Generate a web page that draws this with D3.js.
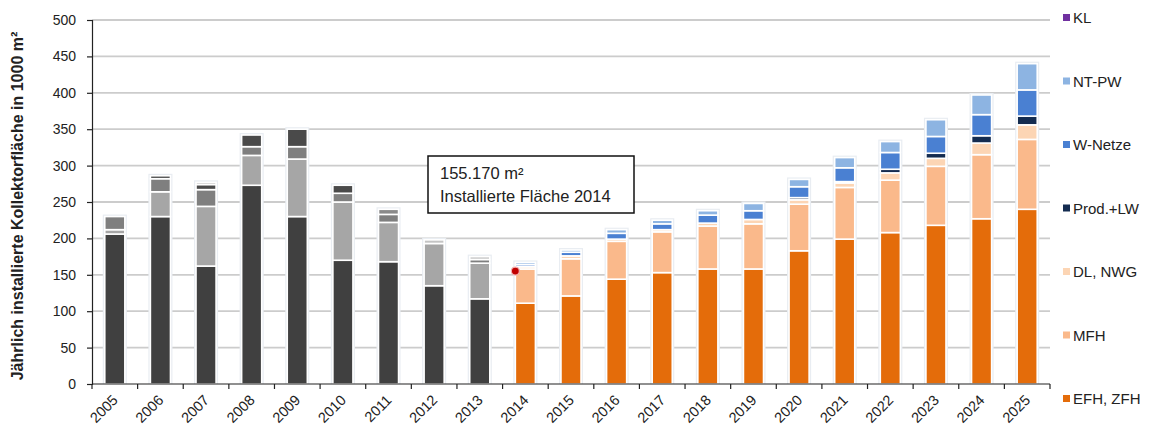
<!DOCTYPE html>
<html>
<head>
<meta charset="utf-8">
<script src="https://cdn.jsdelivr.net/npm/d3@7/dist/d3.min.js"></script>
<style>
  html, body { margin: 0; padding: 0; background: #fff; }
  svg { display: block; font-family: "Liberation Sans", Arial, sans-serif; }
</style>
</head>
<body>
<svg id="chart" width="1176" height="432"></svg>
<script>
// ---------- data ----------
const years = ["2005","2006","2007","2008","2009","2010","2011","2012","2013","2014","2015",
               "2016","2017","2018","2019","2020","2021","2022","2023","2024","2025"];
const seriesNames = ["EFH, ZFH", "MFH", "DL, NWG", "Prod.+LW", "W-Netze", "NT-PW", "KL"];
const efh    = [206,230,162,273,230,170,168,135,117,111,121,144,153,158,158,183,199,208,218,227,240];
const mfh    = [  6, 34, 82, 41, 79, 80, 54, 58, 49, 47, 51, 52, 56, 59, 62, 64, 71, 72, 81, 88, 96];
const dlNwg  = [ 18, 18, 23, 12, 17, 12, 11,  0,  5,  3,  4,  3,  3,  4,  6,  6,  6, 10, 11, 16, 20];
const prodLw = [  0,  4,  7, 16, 24, 11,  0,  0,  0,  0,  0,  0,  0,  0,  0,  3,  2,  5,  7, 10, 12];
const wNetze = [  0,  0,  0,  0,  0,  0,  7,  0,  0,  3,  5,  8,  8, 11, 12, 15, 19, 23, 23, 29, 36];
const ntPw   = [  0,  0,  3,  0,  0,  0,  0,  5,  4,  3,  3,  5,  5,  6, 10, 10, 14, 15, 23, 27, 36];
const kl     = [  0,  0,  0,  0,  0,  0,  0,  0,  0,  0,  0,  0,  0,  0,  0,  0,  0,  0,  0,  0,  0];
const yTicks = [0,50,100,150,200,250,300,350,400,450,500];
const firstForecastYear = "2014";
const annotationValue = 155.17;
const annotationLines = ["155.170 m\u00B2", "Installierte Fl\u00E4che 2014"];
const yTitle = "J\u00E4hrlich installierte Kollektorfl\u00E4che in 1000 m\u00B2";
const legendOrder = ["KL", "NT-PW", "W-Netze", "Prod.+LW", "DL, NWG", "MFH", "EFH, ZFH"];

// ---------- styles ----------
const colors = {
  "EFH, ZFH": "#e46c0a", "MFH": "#fab98b", "DL, NWG": "#fcd5b4",
  "Prod.+LW": "#142c50", "W-Netze": "#4a80d2", "NT-PW": "#8db4e2", "KL": "#7030a0"
};
const greys = {
  "EFH, ZFH": "#404040", "MFH": "#a6a6a6", "DL, NWG": "#7f7f7f",
  "Prod.+LW": "#4a4a4a", "W-Netze": "#8a8a8a", "NT-PW": "#c4c4c4", "KL": "#555555"
};

const valuesBySeries = [efh, mfh, dlNwg, prodLw, wNetze, ntPw, kl];
const table = years.map((y, i) => {
  const row = { year: y };
  seriesNames.forEach((s, k) => row[s] = valuesBySeries[k][i]);
  return row;
});

const svg = d3.select("#chart");
const margin = { left: 92, right: 126, top: 20, bottom: 48 };
const W = 1176, H = 432;
const x0 = margin.left, x1 = W - margin.right, y0 = H - margin.bottom, y1 = margin.top;

const x = d3.scaleBand().domain(years).range([x0, x1]).paddingInner(0.56).paddingOuter(0.28);
const y = d3.scaleLinear().domain([0, 500]).range([y0, y1]);

// gridlines
svg.append("g").selectAll("line").data(yTicks.filter(t => t > 0)).join("line")
  .attr("x1", x0).attr("x2", x1)
  .attr("y1", d => y(d)).attr("y2", d => y(d))
  .attr("stroke", "#cccccc").attr("stroke-width", 1.8);

// stacks
const stack = d3.stack().keys(seriesNames)(table);

// halo behind bars
svg.append("g").selectAll("rect").data(table).join("rect")
  .attr("x", d => x(d.year) - 2)
  .attr("width", x.bandwidth() + 4)
  .attr("y", d => y(d3.sum(seriesNames, s => d[s])) - 2)
  .attr("height", d => y(0) - y(d3.sum(seriesNames, s => d[s])) + 2)
  .attr("fill", "#e9edf2");

const layer = svg.append("g").selectAll("g").data(stack).join("g");
layer.selectAll("rect").data(d => d.map(p => ({ key: d.key, p })))
  .join("rect")
  .filter(d => d.p[1] - d.p[0] > 0)
  .attr("x", d => x(d.p.data.year))
  .attr("width", x.bandwidth())
  .attr("y", d => y(d.p[1]))
  .attr("height", d => y(d.p[0]) - y(d.p[1]))
  .attr("fill", d => d.p.data.year < firstForecastYear ? greys[d.key] : colors[d.key])
  .attr("stroke", "#ffffff").attr("stroke-width", 1.6);

// axes
const xAxisG = svg.append("g").attr("transform", `translate(0,${y0})`);
xAxisG.append("line").attr("x1", x0).attr("x2", x1).attr("y1", 0).attr("y2", 0)
  .attr("stroke", "#222").attr("stroke-width", 1.2);
const boundaries = years.map(yr => x(yr) - x.step() * x.paddingInner() / 2).concat([x1]);
xAxisG.selectAll("line.tk").data(boundaries).join("line").attr("class", "tk")
  .attr("x1", d => d).attr("x2", d => d).attr("y1", 0).attr("y2", 5)
  .attr("stroke", "#222").attr("stroke-width", 1.2);
xAxisG.selectAll("text").data(years).join("text")
  .attr("transform", d => `translate(${x(d) + x.bandwidth() / 2 + 4},${17}) rotate(-45)`)
  .attr("text-anchor", "end")
  .attr("font-size", 14.5).attr("fill", "#222")
  .text(d => d);

const yAxis = d3.axisLeft(y).tickValues(yTicks).tickSize(5).tickPadding(11);
const yAxisG = svg.append("g").attr("transform", `translate(${x0},0)`).call(yAxis);
yAxisG.select(".domain").attr("stroke", "#222").attr("stroke-width", 1.2);
yAxisG.selectAll(".tick line").attr("stroke", "#222").attr("stroke-width", 1.2);
yAxisG.selectAll(".tick text").attr("font-size", 14).attr("fill", "#222")
  .attr("font-family", "Liberation Sans, Arial, sans-serif");

svg.append("text")
  .attr("transform", `translate(23,${(y0 + y1) / 2 + 4}) rotate(-90)`)
  .attr("text-anchor", "middle")
  .attr("font-size", 16).attr("font-weight", "bold").attr("fill", "#222")
  .text(yTitle);

// annotation
const box = svg.append("g");
box.append("rect").attr("x", 428).attr("y", 156).attr("width", 206).attr("height", 57)
  .attr("fill", "#fff").attr("stroke", "#111").attr("stroke-width", 1.5);
box.selectAll("text").data(annotationLines).join("text")
  .attr("x", 440).attr("y", (d, i) => 179 + i * 23)
  .attr("font-size", 16.5).attr("fill", "#222").text(d => d);

svg.append("circle")
  .attr("cx", x(firstForecastYear)).attr("cy", y(annotationValue)).attr("r", 4)
  .attr("fill", "#c00000").attr("stroke", "#f3b0b0").attr("stroke-width", 1.2);

// legend
const leg = svg.append("g").selectAll("g").data(legendOrder).join("g")
  .attr("transform", (d, i) => `translate(1063,${18 + i * 63.5})`);
leg.append("rect").attr("x", 0).attr("y", -4).attr("width", 7).attr("height", 7)
  .attr("fill", d => colors[d]);
leg.append("text").attr("x", 10).attr("y", 5).attr("font-size", 15).attr("fill", "#222")
  .text(d => d);
</script>
</body>
</html>
